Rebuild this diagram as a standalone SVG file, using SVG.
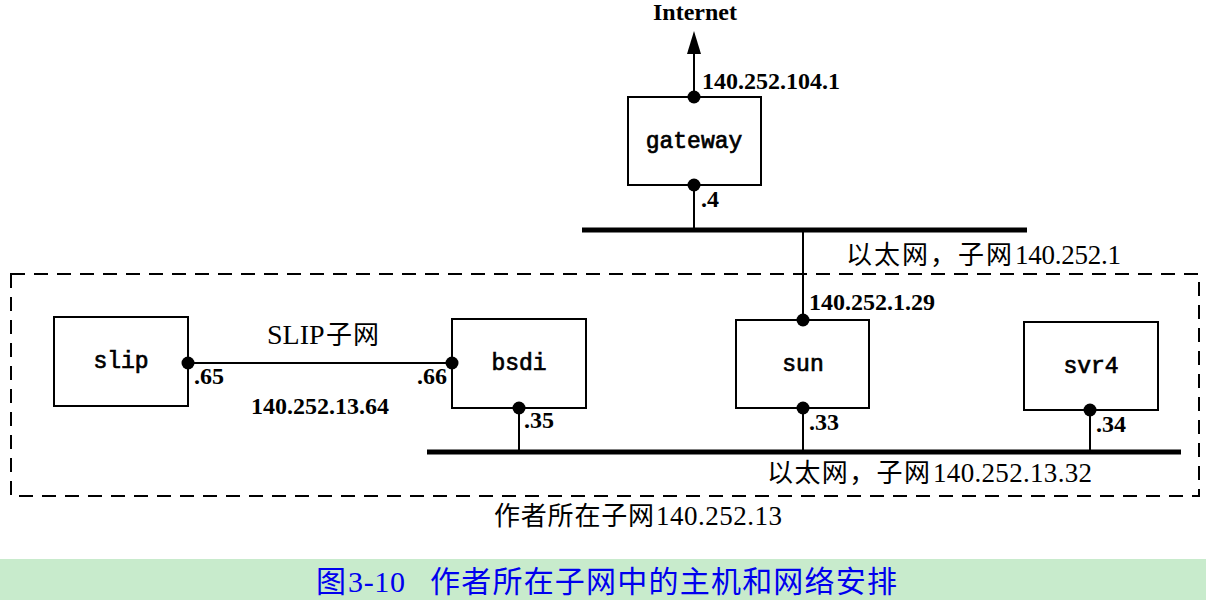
<svg xmlns="http://www.w3.org/2000/svg" width="1206" height="600" viewBox="0 0 1206 600">
<style>
.box{fill:none;stroke:#000;stroke-width:2}
.ln{stroke:#000;stroke-width:2;fill:none}
.bus{stroke:#000;stroke-width:5}
.dot{fill:#000}
.nm{font-family:"Liberation Mono","DejaVu Sans Mono",monospace;font-size:23px;text-anchor:middle;fill:#000;stroke:#000;stroke-width:0.7}
.ip{font-family:"Liberation Serif",serif;font-weight:bold;font-size:24px;fill:#000}
.cj{font-family:"Noto Sans CJK SC",sans-serif;font-size:26px;fill:#000}
.dg{font-family:"Liberation Serif","Times New Roman",serif;font-size:27px;fill:#000}
.capc{font-family:"Noto Sans CJK SC",sans-serif;font-size:30px;fill:#0000ee}
.capd{font-family:"Liberation Serif",serif;font-size:30px;fill:#0000ee}
</style>
<rect width="1206" height="600" fill="#fff"/>
<rect x="0" y="559" width="1206" height="41" fill="#c8ebcc"/>

<rect x="11" y="274" width="1188" height="222" fill="none" stroke="#000" stroke-width="2" stroke-dasharray="14,9"/>

<g id="connectors">
<line class="ln" x1="694" y1="97" x2="694" y2="54"/>
<path d="M687,54 L694,31 L701,54 Z" fill="#000"/>
<line class="ln" x1="694" y1="185" x2="694" y2="230"/>
<line class="bus" x1="582" y1="230" x2="1027" y2="230"/>
<line class="ln" x1="803" y1="230" x2="803" y2="320"/>
<line class="ln" x1="188" y1="363" x2="452" y2="363"/>
<line class="ln" x1="519" y1="408" x2="519" y2="452"/>
<line class="ln" x1="803" y1="408" x2="803" y2="452"/>
<line class="ln" x1="1090" y1="410" x2="1090" y2="452"/>
<line class="bus" x1="427" y1="452" x2="1181" y2="452"/>
</g>

<g id="gateway">
<rect class="box" x="628" y="97" width="133" height="88"/>
<text class="nm" x="694" y="148">gateway</text>
<circle class="dot" cx="694" cy="97" r="6.5"/>
<circle class="dot" cx="694" cy="185" r="6.5"/>
</g>
<g id="slip">
<rect class="box" x="54" y="317" width="134" height="89"/>
<text class="nm" x="121" y="368">slip</text>
<circle class="dot" cx="188" cy="363" r="6.5"/>
</g>
<g id="bsdi">
<rect class="box" x="452" y="319" width="134" height="89"/>
<text class="nm" x="519" y="370">bsdi</text>
<circle class="dot" cx="452" cy="363" r="6.5"/>
<circle class="dot" cx="519" cy="408" r="6.5"/>
</g>
<g id="sun">
<rect class="box" x="736" y="320" width="133" height="88"/>
<text class="nm" x="803" y="371">sun</text>
<circle class="dot" cx="803" cy="320" r="6.5"/>
<circle class="dot" cx="803" cy="408" r="6.5"/>
</g>
<g id="svr4">
<rect class="box" x="1024" y="322" width="134" height="88"/>
<text class="nm" x="1091" y="373">svr4</text>
<circle class="dot" cx="1090" cy="410" r="6.5"/>
</g>

<g id="labels">
<text class="ip" x="695" y="20" text-anchor="middle">Internet</text>
<text class="ip" x="702" y="89">140.252.104.1</text>
<text class="ip" x="701" y="207">.4</text>
<text class="cj" x="846" y="264" textLength="166">以太网，子网</text>
<text class="dg" x="1015" y="264" textLength="106">140.252.1</text>
<text class="ip" x="809" y="310">140.252.1.29</text>
<text class="dg" x="267" y="344" style="font-size:28px">SLIP</text>
<text class="cj" x="326" y="344" textLength="53">子网</text>
<text class="ip" x="194" y="384">.65</text>
<text class="ip" x="447" y="384" text-anchor="end">.66</text>
<text class="ip" x="251" y="414">140.252.13.64</text>
<text class="ip" x="524" y="428">.35</text>
<text class="ip" x="809" y="430">.33</text>
<text class="ip" x="1096" y="432">.34</text>
<text class="cj" x="767" y="482" textLength="163">以太网，子网</text>
<text class="dg" x="933" y="482" textLength="159">140.252.13.32</text>
<text class="cj" x="494" y="525" textLength="160">作者所在子网</text>
<text class="dg" x="656" y="525" textLength="126">140.252.13</text>
<text class="capc" x="316" y="592" textLength="30">图</text>
<text class="capd" x="348" y="592" textLength="57">3-10</text>
<text class="capc" x="430" y="592" textLength="467">作者所在子网中的主机和网络安排</text>
</g>
</svg>
